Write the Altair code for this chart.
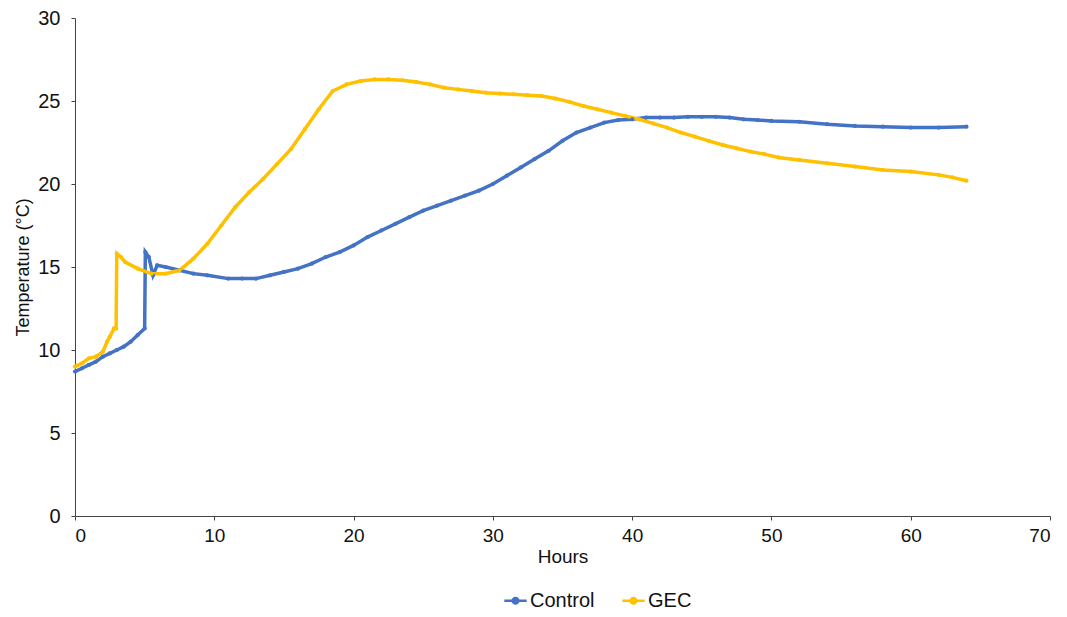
import altair as alt
import pandas as pd

control_hours = [0, 0.5, 1, 1.5, 2, 2.5, 3, 3.5, 4, 4.5, 5.0, 5.05, 5.3, 5.6, 5.9, 6.5, 7.5, 8.5, 9.5,
                 11, 12, 13, 14, 15, 16, 17, 18, 19, 20, 21, 22, 23, 24, 25, 26, 27, 28, 29, 30, 31,
                 32, 33, 34, 35, 36, 37, 38, 39, 40, 41, 42, 43, 44, 45, 46, 47, 48, 49, 50, 52, 54,
                 56, 58, 60, 62, 64]
control_temp = [8.7, 8.9, 9.1, 9.3, 9.6, 9.8, 10.0, 10.2, 10.5, 10.9, 11.3, 15.9, 15.6, 14.5, 15.1,
                15.0, 14.8, 14.6, 14.5, 14.3, 14.3, 14.3, 14.5, 14.7, 14.9, 15.2, 15.6, 15.9, 16.3,
                16.8, 17.2, 17.6, 18.0, 18.4, 18.7, 19.0, 19.3, 19.6, 20.0, 20.5, 21.0, 21.5, 22.0,
                22.6, 23.1, 23.4, 23.7, 23.85, 23.9, 24.0, 24.0, 24.0, 24.05, 24.05, 24.05, 24.0,
                23.9, 23.85, 23.8, 23.75, 23.6, 23.5, 23.45, 23.4, 23.4, 23.45]

gec_hours = [0, 0.5, 1, 1.5, 2, 2.3, 2.5, 2.8, 2.95, 3.0, 3.3, 3.6, 4.5, 5.5, 6.5, 7.5, 8.5, 9.5,
             10.5, 11.5, 12.5, 13.5, 14.5, 15.5, 16.5, 17.5, 18.5, 19.5, 20.5, 21.5, 22.5, 23.5,
             24.5, 25.5, 26.5, 27.5, 28.5, 29.5, 30.5, 31.5, 32.5, 33.5, 34.5, 35.5, 36.5, 37.5,
             38.5, 39.5, 40.5, 41.5, 42.5, 43.5, 44.5, 45.5, 46.5, 47.5, 48.5, 49.5, 50.5, 52, 54,
             56, 58, 60, 62, 63, 64]
gec_temp = [9.0, 9.2, 9.5, 9.6, 9.9, 10.5, 10.8, 11.3, 11.3, 15.8, 15.6, 15.3, 14.9, 14.6, 14.6,
            14.8, 15.5, 16.4, 17.5, 18.6, 19.5, 20.3, 21.2, 22.1, 23.3, 24.5, 25.6, 26.0, 26.2,
            26.3, 26.3, 26.25, 26.15, 26.0, 25.8, 25.7, 25.6, 25.5, 25.45, 25.4, 25.35, 25.3,
            25.15, 24.95, 24.7, 24.5, 24.3, 24.1, 23.9, 23.65, 23.4, 23.1, 22.85, 22.6, 22.35,
            22.15, 21.95, 21.8, 21.6, 21.45, 21.25, 21.05, 20.85, 20.75, 20.55, 20.4, 20.2]

series_names = ["Control", "GEC"]
series_colors = ["#4472C4", "#FFC000"]

df = pd.concat([
    pd.DataFrame({"Hours": control_hours, "Temp": control_temp, "Series": "Control", "order": range(len(control_hours))}),
    pd.DataFrame({"Hours": gec_hours, "Temp": gec_temp, "Series": "GEC", "order": range(len(gec_hours))}),
])

FONT = "Liberation Sans"

x = alt.X("Hours:Q", scale=alt.Scale(domain=[0, 70], nice=False),
          axis=alt.Axis(title="Hours", values=[0, 10, 20, 30, 40, 50, 60, 70], grid=False,
                        labelFontSize=19, titleFontSize=19, titleFontWeight="normal",
                        labelColor="#111", titleColor="#111", domainColor="#444",
                        tickColor="#444", tickSize=4, labelPadding=6, titlePadding=2,
                        labelFont=FONT, titleFont=FONT))
y = alt.Y("Temp:Q", scale=alt.Scale(domain=[0, 30], nice=False),
          axis=alt.Axis(title="Temperature (°C)", values=[0, 5, 10, 15, 20, 25, 30], grid=False,
                        labelFontSize=20, titleFontSize=18, titleFontWeight="normal",
                        labelColor="#111", titleColor="#111", domainColor="#444",
                        tickColor="#444", tickSize=4, labelPadding=11, titlePadding=5,
                        labelFont=FONT, titleFont=FONT))
color = alt.Color("Series:N", scale=alt.Scale(domain=series_names, range=series_colors),
                  legend=alt.Legend(title=None, orient="none", direction="horizontal",
                                    legendX=428, legendY=570, labelFontSize=20, labelFont=FONT,
                                    labelColor="#111",
                                    symbolType="M-1,0L1,0M-0.25,0A0.25,0.25,0,1,1,0.25,0A0.25,0.25,0,1,1,-0.25,0",
                                    symbolSize=500, symbolStrokeWidth=2.5, columnPadding=22,
                                    labelOffset=2))

base = alt.Chart(df)
line = base.mark_line(strokeWidth=3.5).encode(x=x, y=y, color=color, order="order:Q")
pts = base.mark_point(filled=True, size=18, opacity=1).encode(
    x="Hours:Q", y="Temp:Q",
    color=alt.Color("Series:N", scale=alt.Scale(domain=series_names, range=series_colors), legend=None))

chart = alt.layer(line, pts).properties(
    width=975, height=498,
    autosize=alt.AutoSizeParams(type="none"),
    padding={"left": 67, "top": 10, "right": 9, "bottom": 99},
    background="white",
).configure_view(stroke=None)

chart.save("out.html", embed_options={"renderer": "svg", "actions": False})
